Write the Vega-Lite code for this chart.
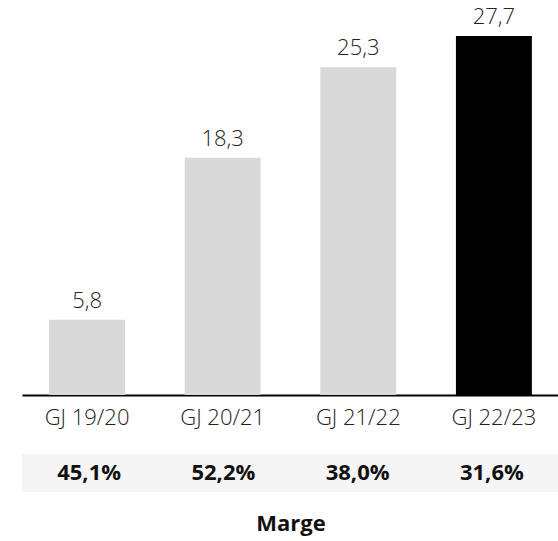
{
  "$schema": "https://vega.github.io/schema/vega-lite/v6.json",
  "padding": {"left": 22, "top": 0, "right": 0, "bottom": 12},
  "background": "white",
  "config": {
    "font": "Open Sans",
    "locale": {"number": {"decimal": ",", "thousands": ".", "grouping": [3], "currency": ["", " €"]}},
    "view": {"stroke": null}
  },
  "data": {
    "values": [
      {"gj": "GJ 19/20", "umsatz": 5.8, "marge": 0.451, "current": "no"},
      {"gj": "GJ 20/21", "umsatz": 18.3, "marge": 0.522, "current": "no"},
      {"gj": "GJ 21/22", "umsatz": 25.3, "marge": 0.38, "current": "no"},
      {"gj": "GJ 22/23", "umsatz": 27.7, "marge": 0.316, "current": "yes"}
    ]
  },
  "spacing": 26,
  "vconcat": [
    {
      "width": 537,
      "height": 395,
      "encoding": {
        "x": {
          "field": "gj", "type": "nominal", "sort": null,
          "scale": {"paddingInner": 0.44, "paddingOuter": 0.2},
          "axis": {
            "title": null, "labelAngle": 0, "ticks": false,
            "domainColor": "#000000", "domainWidth": 2,
            "labelFontSize": 22, "labelFontWeight": 300, "labelColor": "#222222",
            "labelPadding": 12, "labelFont": "Open Sans"
          }
        },
        "y": {
          "field": "umsatz", "type": "quantitative",
          "scale": {"domain": [0, 30.48], "nice": false},
          "axis": null
        }
      },
      "layer": [
        {
          "mark": {"type": "bar"},
          "encoding": {
            "color": {
              "field": "current", "type": "nominal",
              "scale": {"domain": ["no", "yes"], "range": ["#d9d9d9", "#000000"]},
              "legend": null
            }
          }
        },
        {
          "mark": {"type": "text", "baseline": "bottom", "dy": -7, "fontSize": 22, "fontWeight": 300, "color": "#222222"},
          "encoding": {
            "text": {"field": "umsatz", "type": "quantitative", "format": ".1f"}
          }
        }
      ]
    },
    {
      "width": 537,
      "height": 38,
      "view": {"fill": "#f5f5f5", "stroke": null},
      "encoding": {
        "x": {
          "field": "gj", "type": "nominal", "sort": null,
          "scale": {"paddingInner": 0.44, "paddingOuter": 0.2},
          "axis": {
            "title": "Marge", "labels": false, "ticks": false, "domain": false,
            "titleFontSize": 22, "titleFontWeight": "bold", "titleColor": "#111111",
            "titlePadding": 21, "titleFont": "Open Sans"
          }
        }
      },
      "layer": [
        {
          "mark": {"type": "text", "fontSize": 22, "fontWeight": "bold", "color": "#111111", "baseline": "middle"},
          "encoding": {
            "text": {"field": "marge", "type": "quantitative", "format": ".1%"}
          }
        }
      ]
    }
  ]
}
